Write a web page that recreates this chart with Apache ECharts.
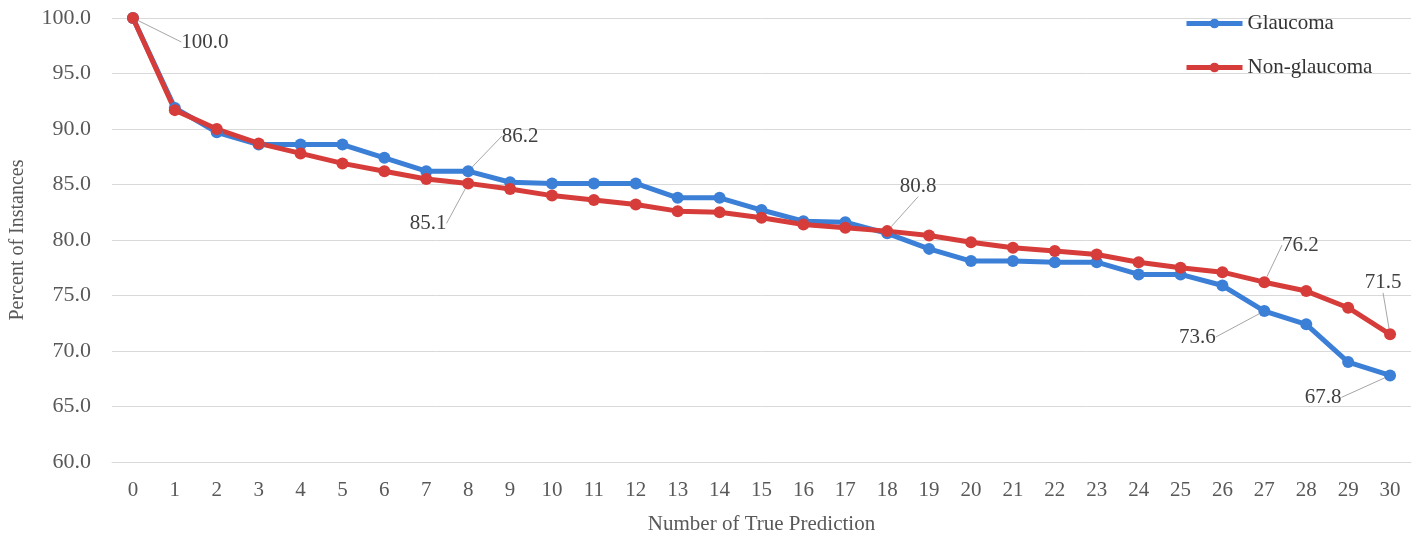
<!DOCTYPE html>
<html>
<head>
<meta charset="utf-8">
<script src="https://cdn.jsdelivr.net/npm/echarts@6/dist/echarts.min.js"></script>
<style>
html,body{margin:0;padding:0;background:#fff;}
#chart{width:1418px;height:540px;}
</style>
</head>
<body>
<div id="chart"></div>
<script>
const categories = ['0','1','2','3','4','5','6','7','8','9','10','11','12','13','14','15','16','17','18','19','20','21','22','23','24','25','26','27','28','29','30'];
const glaucoma = [100.0,91.9,89.7,88.6,88.6,88.6,87.4,86.2,86.2,85.2,85.1,85.1,85.1,83.8,83.8,82.7,81.7,81.6,80.6,79.2,78.1,78.1,78.0,78.0,76.9,76.9,75.9,73.6,72.4,69.0,67.8];
const nonGlaucoma = [100.0,91.7,90.0,88.7,87.8,86.9,86.2,85.5,85.1,84.6,84.0,83.6,83.2,82.6,82.5,82.0,81.4,81.1,80.8,80.4,79.8,79.3,79.0,78.7,78.0,77.5,77.1,76.2,75.4,73.9,71.5];
const yTicks = [60,65,70,75,80,85,90,95,100];
const glaucomaLabelIdx = [8,27,30];
const nonGlaucomaLabelIdx = [0,8,18,27,30];

// label offsets (presentation only)
const offsets = {
  '0-8': [52,-35], '0-27': [-67,26], '0-30': [-67,22],
  '1-0': [72,24], '1-8': [-40,40], '1-18': [31,-45], '1-27': [36,-37], '1-30': [-7,-52]
};

const FONT = '"Liberation Serif", "DejaVu Serif", serif';

function buildData(vals, labelIdx){
  return vals.map((v,i)=> labelIdx.includes(i) ? {value:v, label:{show:true}} : v);
}

const chart = echarts.init(document.getElementById('chart'));
const labelCommon = {
  show:false,
  formatter: p => Number(p.value).toFixed(1),
  fontFamily: FONT, fontSize: 21, color:'#404040'
};
const labelLineCommon = {show:true, lineStyle:{color:'#a6a6a6', width:1}};
function layout(params){
  const key = params.seriesIndex + '-' + params.dataIndex;
  const off = offsets[key];
  if(!off) return {};
  const r = params.rect;
  return {
    x: r.x + r.width/2 + off[0],
    y: r.y + r.height/2 + off[1],
    align:'center', verticalAlign:'middle'
  };
}

chart.setOption({
  animation:false,
  backgroundColor:'#ffffff',
  grid:{left:112, right:7, top:18, bottom:78, containLabel:false, outerBoundsMode:'none'},
  legend:{
    orient:'vertical', left:1184, top:13, padding:0, itemWidth:56, itemHeight:12, itemGap:23,
    lineStyle:{width:5},
    textStyle:{fontFamily:FONT, fontSize:21, color:'#333'},
    data:['Glaucoma','Non-glaucoma']
  },
  xAxis:{
    type:'category', data:categories, boundaryGap:true,
    name:'Number of True Prediction', nameLocation:'middle', nameGap:52,
    nameTextStyle:{fontFamily:FONT, fontSize:21, color:'#595959'},
    axisLine:{show:true, lineStyle:{color:'#d9d9d9', width:1}},
    axisTick:{show:false},
    axisLabel:{fontFamily:FONT, fontSize:21, color:'#595959', margin:18, interval:0}
  },
  yAxis:{
    type:'value', min:yTicks[0], max:yTicks[yTicks.length-1], interval:5,
    name:'Percent of Instances', nameLocation:'middle', nameGap:84,
    nameTextStyle:{fontFamily:FONT, fontSize:20, color:'#595959'},
    axisLine:{show:false}, axisTick:{show:false},
    axisLabel:{fontFamily:FONT, fontSize:22, color:'#595959', margin:21, formatter:v=>v.toFixed(1)},
    splitLine:{lineStyle:{color:'#d9d9d9', width:1}}
  },
  series:[
    {
      name:'Glaucoma', type:'line', data:buildData(glaucoma, glaucomaLabelIdx),
      color:'#3b7fd6', symbol:'circle', symbolSize:12,
      lineStyle:{width:5, color:'#3b7fd6'}, itemStyle:{color:'#3b7fd6'},
      label:labelCommon, labelLine:labelLineCommon, labelLayout:layout
    },
    {
      name:'Non-glaucoma', type:'line', data:buildData(nonGlaucoma, nonGlaucomaLabelIdx),
      color:'#d63d3a', symbol:'circle', symbolSize:12,
      lineStyle:{width:5, color:'#d63d3a'}, itemStyle:{color:'#d63d3a'},
      label:labelCommon, labelLine:labelLineCommon, labelLayout:layout
    }
  ]
});
</script>
</body>
</html>
